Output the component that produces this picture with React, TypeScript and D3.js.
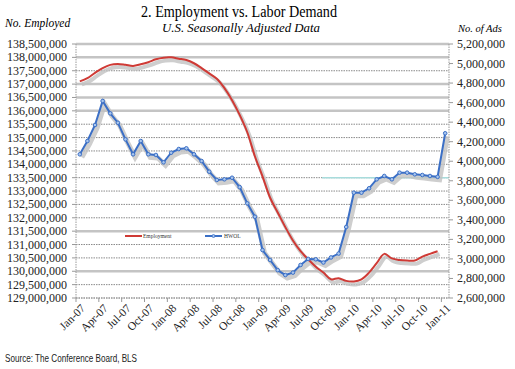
import React from 'react';
import * as d3 from 'd3';

const months = [
  'Jan-07','Feb-07','Mar-07','Apr-07','May-07','Jun-07','Jul-07','Aug-07','Sep-07','Oct-07','Nov-07','Dec-07',
  'Jan-08','Feb-08','Mar-08','Apr-08','May-08','Jun-08','Jul-08','Aug-08','Sep-08','Oct-08','Nov-08','Dec-08',
  'Jan-09','Feb-09','Mar-09','Apr-09','May-09','Jun-09','Jul-09','Aug-09','Sep-09','Oct-09','Nov-09','Dec-09',
  'Jan-10','Feb-10','Mar-10','Apr-10','May-10','Jun-10','Jul-10','Aug-10','Sep-10','Oct-10','Nov-10','Dec-10',
  'Jan-11'
];
const tickMonths = ['Jan-07','Apr-07','Jul-07','Oct-07','Jan-08','Apr-08','Jul-08','Oct-08','Jan-09','Apr-09','Jul-09','Oct-09','Jan-10','Apr-10','Jul-10','Oct-10','Jan-11'];

// millions, Jan-07 .. Dec-10
const employment = [
  137.10, 137.22, 137.42, 137.60, 137.72, 137.75, 137.72, 137.68, 137.74, 137.82, 137.93, 137.99,
  138.00, 137.95, 137.90, 137.78, 137.60, 137.40, 137.20, 136.85, 136.40, 135.85, 135.20, 134.30,
  133.55, 132.75, 132.20, 131.65, 131.15, 130.75, 130.45, 130.17, 129.95, 129.70, 129.74, 129.64,
  129.62, 129.70, 129.95, 130.30, 130.65, 130.48, 130.42, 130.40, 130.40, 130.55, 130.65, 130.75
];
// millions, Jan-07 .. Jan-11
const hwol = [
  4.071, 4.207, 4.371, 4.617, 4.490, 4.394, 4.224, 4.071, 4.207, 4.071, 4.064, 3.989,
  4.087, 4.125, 4.132, 4.071, 4.002, 3.893, 3.808, 3.815, 3.831, 3.735, 3.569, 3.432,
  3.091, 2.989, 2.885, 2.835, 2.860, 2.938, 3.000, 2.996, 2.963, 3.015, 3.055, 3.327,
  3.678, 3.678, 3.723, 3.815, 3.849, 3.815, 3.883, 3.883, 3.866, 3.859, 3.849, 3.840,
  4.286
];

const leftTicks = d3.range(129e6, 138.5e6 + 1, 5e5);
const rightTicks = d3.range(2.6e6, 5.2e6 + 1, 2e5);
const solidGrid = [138.5e6, 138e6, 137e6, 136.5e6, 136e6, 131.5e6, 130e6];

const fmt = d3.format(',');

export default function App() {
  const left = 76, right = 449, top = 44, bottom = 298;
  const x = d3.scaleBand<string>().domain(months).range([left, right]);
  const yL = d3.scaleLinear().domain([129e6, 138.5e6]).range([bottom, top]);
  const yR = d3.scaleLinear().domain([2.6e6, 5.2e6]).range([bottom, top]);
  const cx = (i: number) => (x(months[i]) as number) + x.bandwidth() / 2;

  const redLine = d3.line<number>().x((d, i) => cx(i)).y(d => yL(d * 1e6)).curve(d3.curveCatmullRom.alpha(0.5));
  const blueLine = d3.line<number>().x((d, i) => cx(i)).y(d => yR(d * 1e6));

  const serif = '"Liberation Serif", "DejaVu Serif", serif';
  const red = '#cf3a35';
  const blue = '#3b6fc6';

  return (
    <svg width={515} height={369} style={{ position: 'absolute', left: 0, top: 0, background: '#fff' }} fontFamily={serif}>
      <text x={239} y={17} textAnchor="middle" fontSize={16} textLength={196} lengthAdjust="spacingAndGlyphs">2. Employment vs. Labor Demand</text>
      <text x={241} y={32} textAnchor="middle" fontSize={12.5} fontStyle="italic" textLength={158} lengthAdjust="spacingAndGlyphs">U.S. Seasonally Adjusted Data</text>
      <text x={5} y={27} fontSize={11.5} fontStyle="italic">No. Employed</text>
      <text x={458} y={32} fontSize={10.5} fontStyle="italic">No. of Ads</text>

      {/* gridlines */}
      {leftTicks.map(t => (
        solidGrid.includes(t)
          ? <line key={'g' + t} x1={left} x2={right} y1={yL(t)} y2={yL(t)} stroke="#c4c4c4" strokeWidth={2.5} />
          : <line key={'g' + t} x1={left} x2={right} y1={yL(t)} y2={yL(t)} stroke="#8a8a8a" strokeWidth={1} strokeDasharray="1.5,1" />
      ))}
      <line x1={322} x2={right} y1={yL(133.5e6)} y2={yL(133.5e6)} stroke="#a8dcdc" strokeWidth={1.5} />

      {/* axes */}
      <line x1={left} x2={left} y1={top} y2={bottom} stroke="#999" strokeDasharray="1.5,1" />
      <line x1={right} x2={right} y1={top} y2={bottom} stroke="#999" strokeDasharray="1.5,1" />
      <line x1={left} x2={right} y1={bottom} y2={bottom} stroke="#999" strokeDasharray="1.5,1" />
      {leftTicks.map(t => (
        <g key={'l' + t}>
          <line x1={left - 4} x2={left} y1={yL(t)} y2={yL(t)} stroke="#999" />
          <text x={67} y={yL(t) + 4} textAnchor="end" fontSize={12} fill="#222">{fmt(t)}</text>
        </g>
      ))}
      {rightTicks.map(t => (
        <g key={'r' + t}>
          <line x1={right} x2={right + 4} y1={yR(t)} y2={yR(t)} stroke="#999" />
          <text x={457} y={yR(t) + 4} fontSize={12} fill="#222">{fmt(t)}</text>
        </g>
      ))}
      {tickMonths.map(m => {
        const xb = x(m) as number;
        const c = xb + x.bandwidth() / 2;
        return (
          <g key={'x' + m}>
            <line x1={xb} x2={xb} y1={bottom} y2={bottom + 4} stroke="#999" />
            <text transform={`translate(${c + 6},${bottom + 11}) rotate(-45)`} textAnchor="end" fontSize={11.5} fill="#222">{m}</text>
          </g>
        );
      })}

      {/* shadows */}
      <g transform="translate(2,3)" opacity={0.8}>
        <path d={redLine(employment) || ''} fill="none" stroke="#c2c2c2" strokeWidth={4} />
        <path d={blueLine(hwol) || ''} fill="none" stroke="#c2c2c2" strokeWidth={5} />
      </g>

      <path d={redLine(employment) || ''} fill="none" stroke={red} strokeWidth={2} />
      <path d={blueLine(hwol) || ''} fill="none" stroke={blue} strokeWidth={2} />
      {hwol.map((d, i) => (
        <circle key={'m' + i} cx={cx(i)} cy={yR(d * 1e6)} r={1.8} fill="#a9c6ee" stroke={blue} strokeWidth={1} />
      ))}

      {/* legend */}
      <line x1={125} x2={142} y1={236} y2={236} stroke={red} strokeWidth={2} />
      <text x={143} y={238} fontSize={5.5} fill="#333">Employment</text>
      <line x1={205} x2={222} y1={236} y2={236} stroke={blue} strokeWidth={2} />
      <circle cx={213.5} cy={236} r={1.5} fill="#a9c6ee" stroke={blue} strokeWidth={0.8} />
      <text x={224} y={238} fontSize={5.5} fill="#333">HWOL</text>

      <text x={5} y={362} fontSize={10.5} fontFamily='"Liberation Sans", Arial, sans-serif' textLength={132} lengthAdjust="spacingAndGlyphs" fill="#222">Source: The Conference Board, BLS</text>
    </svg>
  );
}
